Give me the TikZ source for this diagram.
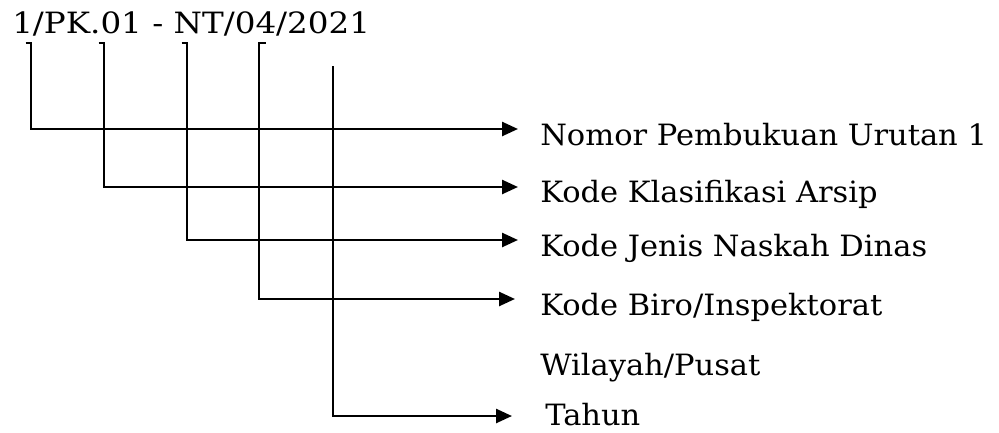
\documentclass[tikz,border=0pt]{standalone}
\usepackage{fontspec}
\setmainfont{DejaVu Serif}[FakeStretch=1.04]
\newfontfamily\titlefont{DejaVu Serif}[FakeStretch=1.11]
\usetikzlibrary{arrows.meta}
\begin{document}
\begin{tikzpicture}[x=0.75pt,y=-0.75pt,
  conn/.style={line width=1.9pt,line cap=rect,-{Triangle[length=12pt,width=10.5pt]}},
  tickline/.style={line width=1.9pt},
  lbl/.style={anchor=base west,inner sep=0pt,font=\fontsize{22}{26}\selectfont}]
\useasboundingbox (0,0) rectangle (999,432);
\node[lbl,font=\fontsize{22}{26}\titlefont] (t) at (12,33) {1/PK.01 - NT/04/2021};
% tops of the leads
\coordinate (a1) at (31,43);
\coordinate (a2) at (104,43);
\coordinate (a3) at (187,43);
\coordinate (a4) at (259,43);
\coordinate (a5) at (333,67);
% arrow ends
\coordinate (e1) at (518,129);
\coordinate (e2) at (518,187);
\coordinate (e3) at (518,240);
\coordinate (e4) at (515,299);
\coordinate (e5) at (512,416);
% labels
\node[lbl] (l1) at (540,145) {Nomor Pembukuan Urutan 1};
\node[lbl] (l2) at (540,202) {Kode Klasifikasi Arsip};
\node[lbl] (l3) at (540,256) {Kode Jenis Naskah Dinas};
\node[lbl] (l4) at (540,315) {Kode Biro/Inspektorat};
\node[lbl] (l5) at (540,375) {Wilayah/Pusat};
\node[lbl] (l6) at (545,425) {Tahun};
% small ticks at the tops
\draw[tickline] ([xshift=-4]a1) -- (a1);
\draw[tickline] ([xshift=-4]a2) -- (a2);
\draw[tickline] ([xshift=-4]a3) -- (a3);
\draw[tickline] ([xshift=5]a4) -- (a4);
% connectors
\draw[conn] (a1) |- (e1);
\draw[conn] (a2) |- (e2);
\draw[conn] (a3) |- (e3);
\draw[conn] (a4) |- (e4);
\draw[conn] (a5) |- (e5);
\end{tikzpicture}
\end{document}
